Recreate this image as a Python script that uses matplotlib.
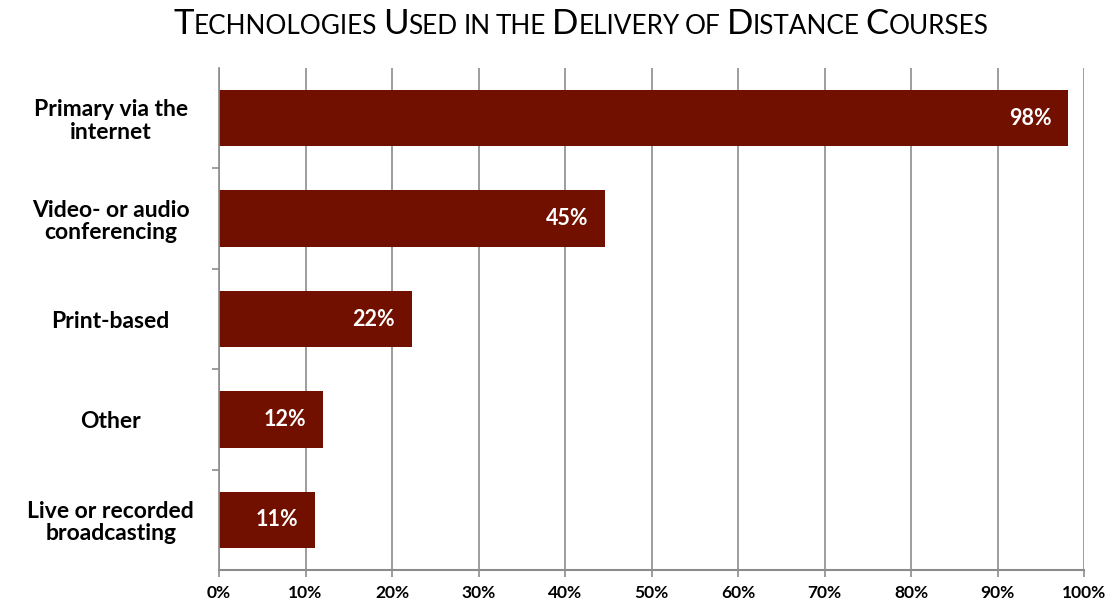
import matplotlib
matplotlib.use("Agg")
import matplotlib.pyplot as plt
from matplotlib.ticker import FuncFormatter, MultipleLocator

categories = ["Primary via the\ninternet", "Video- or audio\nconferencing", "Print-based", "Other", "Live or recorded\nbroadcasting"]
values = [98.2, 44.6, 22.3, 12.0, 11.1]
labels = ["98%", "45%", "22%", "12%", "11%"]

bar_color = "#721000"
grid_color = "#8c8c8c"
FONT = "Lato"

fig = plt.figure(figsize=(11.16, 6.05), dpi=100)
ax = fig.add_axes([219/1116, 1 - 570/605, (1084-219)/1116, (570-68)/605])

y = list(range(len(categories)))
ax.barh(y, values, height=0.56, color=bar_color, zorder=3)
ax.set_ylim(len(categories) - 0.5, -0.5)
ax.set_xlim(0, 100)
ax.xaxis.set_major_locator(MultipleLocator(10))
ax.xaxis.set_major_formatter(FuncFormatter(lambda v, p: f"{int(round(v))}%"))
ax.grid(axis="x", color=grid_color, linewidth=1.2, zorder=0)
ax.set_yticks(y)
ax.set_yticklabels(categories, fontsize=16.5, fontweight="bold", family=FONT, linespacing=1.1, ha="center")
ax.set_yticks([i + 0.5 for i in range(len(categories) - 1)], minor=True)
ax.tick_params(axis="y", which="major", length=0, pad=78)
ax.tick_params(axis="y", which="minor", length=5, color=grid_color, width=1.2)
ax.tick_params(axis="x", length=5, color=grid_color, width=1.2, pad=6)
for lab in ax.get_xticklabels():
    lab.set_fontsize(12.5)
    lab.set_fontweight("bold")
    lab.set_family(FONT)
for s in ["top", "right"]:
    ax.spines[s].set_visible(False)
ax.spines["left"].set_color(grid_color)
ax.spines["left"].set_linewidth(1.2)
ax.spines["bottom"].set_color(grid_color)
ax.spines["bottom"].set_linewidth(1.5)
ax.spines["left"].set_zorder(4)

for yi, v, t in zip(y, values, labels):
    ax.annotate(t, (v, yi), xytext=(-12, 0), textcoords="offset points",
                ha="right", va="center", color="white", fontsize=15.5,
                fontweight="bold", family=FONT, zorder=5)

# Small-caps style title
title = "Technologies Used in the Delivery of Distance Courses"
big, small = 25, 18.8
segments = []
for word in title.split(" "):
    first = word[0]
    rest = word[1:]
    if word in ("in", "the", "of"):
        segments.append((word.upper(), small))
    else:
        segments.append((first.upper(), big))
        if rest:
            segments.append((rest.upper(), small))
    segments.append((" ", small))
segments = segments[:-1]

fig.canvas.draw()
renderer = fig.canvas.get_renderer()
texts = []
for s, size in segments:
    t = fig.text(0, 0, s, fontsize=size, family=FONT, color="black", va="baseline", ha="left")
    texts.append(t)
widths = []
for t in texts:
    bb = t.get_window_extent(renderer)
    w = bb.width
    if t.get_text() == " ":
        w = t.get_fontsize() * 0.3
    widths.append(w)
total = sum(widths)
x0 = (581 - total / 2)
baseline = 605 - 34
x = x0
for t, w in zip(texts, widths):
    t.set_position((x / 1116, baseline / 605))
    x += w

fig.savefig("out.png", dpi=100, facecolor="white")
